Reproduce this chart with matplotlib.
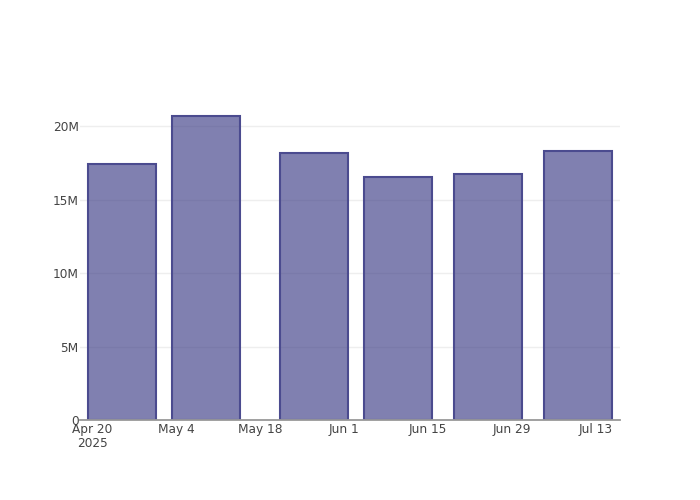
import matplotlib
matplotlib.use("Agg")
import matplotlib.pyplot as plt
import matplotlib.dates as mdates
import numpy as np
import datetime as dt

dates = ["2025-04-25", "2025-05-09", "2025-05-27", "2025-06-10", "2025-06-25", "2025-07-10"]
values = [17.46e6, 20.70e6, 18.21e6, 16.55e6, 16.76e6, 18.30e6]
ytick_vals = [0, 5e6, 10e6, 15e6, 20e6]
ytick_labels = ["0", "5M", "10M", "15M", "20M"]
xtick_dates = ["2025-04-20", "2025-05-04", "2025-05-18", "2025-06-01", "2025-06-15", "2025-06-29", "2025-07-13"]
xtick_labels = ["Apr 20\n2025", "May 4", "May 18", "Jun 1", "Jun 15", "Jun 29", "Jul 13"]

plt.rcParams['font.family'] = ['DejaVu Sans']
fig = plt.figure(figsize=(7, 5), dpi=100)
ax = fig.add_axes([80/700, 80/500, 540/700, 320/500])

x = [mdates.date2num(dt.datetime.fromisoformat(d)) for d in dates]
ax.bar(x, values, width=11.3, color=(0.2, 0.2, 0.5, 0.62),
       edgecolor="#4b4b8f", linewidth=1.5, zorder=3)

x0 = mdates.date2num(dt.datetime(2025, 4, 18))
x1 = mdates.date2num(dt.datetime(2025, 7, 17))
ax.set_xlim(x0, x1)
ax.set_ylim(0, 21.8e6)

xt = [mdates.date2num(dt.datetime.fromisoformat(d)) for d in xtick_dates]
ax.set_xticks(xt)
ax.set_xticklabels(xtick_labels, linespacing=1.15)
ax.set_yticks(ytick_vals)
ax.set_yticklabels(ytick_labels)

ax.tick_params(axis='both', length=0, labelsize=8.7, colors="#444444")
ax.tick_params(axis='x', pad=2)
ax.tick_params(axis='y', pad=1)
ax.grid(axis='y', color="#eeeeee", linewidth=1, zorder=0)
for s in ["top", "right", "left"]:
    ax.spines[s].set_visible(False)
ax.spines["bottom"].set_color("#999999")
ax.spines["bottom"].set_linewidth(1.3)
ax.spines["bottom"].set_zorder(4)

fig.savefig("out.png", dpi=100)
